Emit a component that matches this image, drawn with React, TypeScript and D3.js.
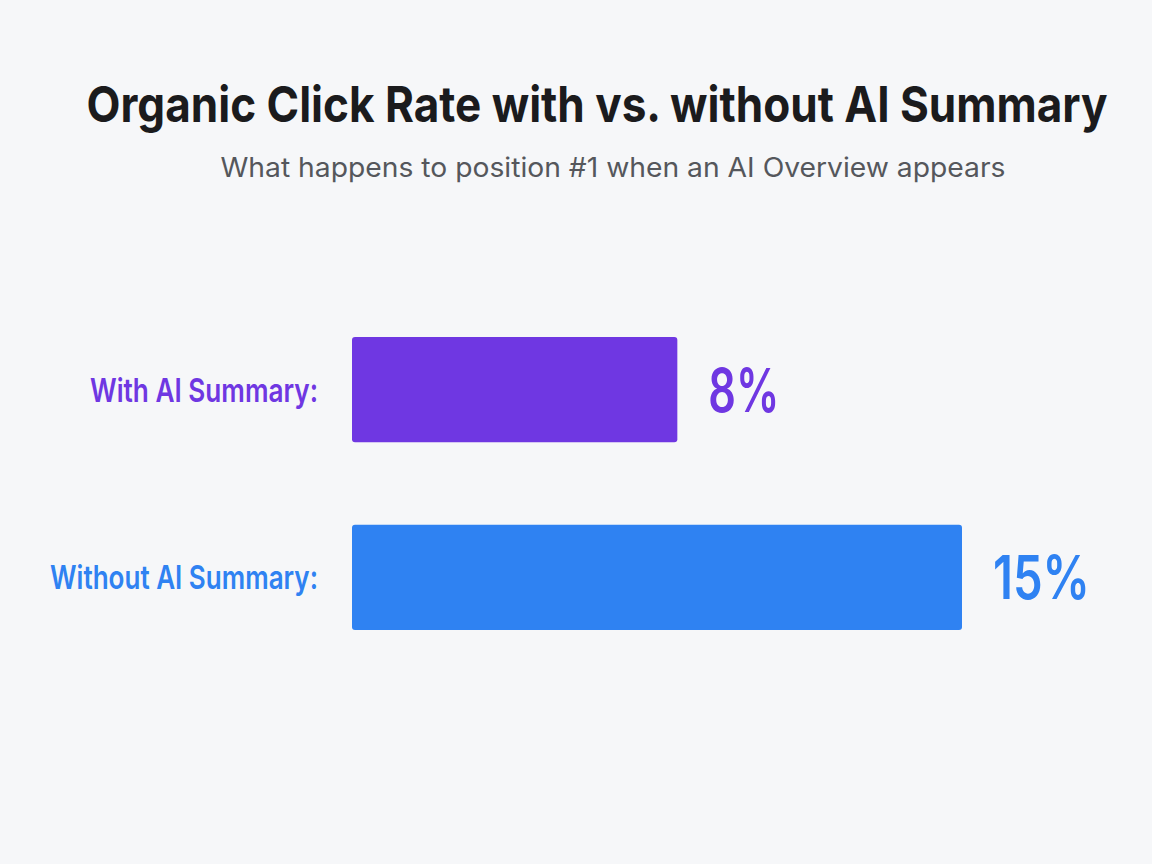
import * as d3 from "d3";

const width = 1152;
const height = 864;

const categories = ["With AI Summary:", "Without AI Summary:"];
const values = [8, 15];
const valueLabels = ["8%", "15%"];
const colors = ["#6f37e2", "#2f82f2"];

const title = "Organic Click Rate with vs. without AI Summary";
const subtitle = "What happens to position #1 when an AI Overview appears";

const x = d3.scaleLinear().domain([0, 15]).range([352, 962]);
const y = d3
  .scaleBand<string>()
  .domain(categories)
  .range([337, 630])
  .paddingInner(0.44)
  .paddingOuter(0);

const labelWidths = [228, 268];
const valueWidths = [71, 97];

const App = () => {
  return (
    <svg
      width={width}
      height={height}
      viewBox={`0 0 ${width} ${height}`}
      style={{ position: "absolute", left: 0, top: 0, fontFamily: "Inter, 'Noto Sans', sans-serif" }}
    >
      <rect width={width} height={height} fill="#f6f7f9" />
      <text
        x={597}
        y={122}
        textAnchor="middle"
        fontSize={50}
        fontWeight={700}
        fill="#1b1b1d"
        textLength={1021}
        lengthAdjust="spacingAndGlyphs"
      >
        {title}
      </text>
      <text
        x={613}
        y={177}
        textAnchor="middle"
        fontSize={27}
        fontWeight={400}
        fill="#55575c"
        textLength={785}
        lengthAdjust="spacingAndGlyphs"
      >
        {subtitle}
      </text>
      {categories.map((c, i) => {
        const y0 = y(c) as number;
        const bw = y.bandwidth();
        const cy = y0 + bw / 2;
        return (
          <g key={c}>
            <rect
              x={x(0)}
              y={y0}
              width={x(values[i]) - x(0)}
              height={bw}
              rx={3}
              fill={colors[i]}
            />
            <text
              x={318}
              y={cy + 12}
              textAnchor="end"
              fontSize={33}
              fontWeight={600}
              fill={colors[i]}
              textLength={labelWidths[i]}
              lengthAdjust="spacingAndGlyphs"
            >
              {c}
            </text>
            <text
              x={x(values[i]) + 31}
              y={cy + 22}
              fontSize={60}
              fontWeight={600}
              fill={colors[i]}
              textLength={valueWidths[i]}
              lengthAdjust="spacingAndGlyphs"
            >
              {valueLabels[i]}
            </text>
          </g>
        );
      })}
    </svg>
  );
};

export default App;
